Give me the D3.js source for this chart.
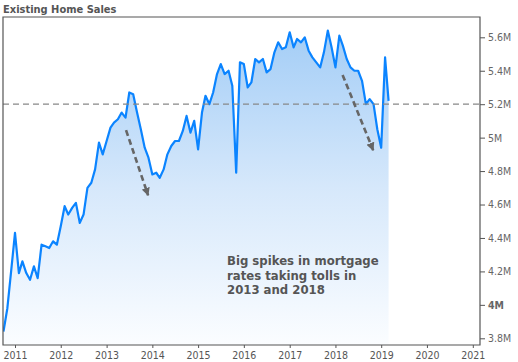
<!DOCTYPE html>
<html><head><meta charset="utf-8">
<script src="https://cdn.jsdelivr.net/npm/d3@7"></script>
<style>
html,body{margin:0;padding:0;background:#fff;}
svg{display:block;}
text{font-family:"DejaVu Sans Condensed","DejaVu Sans",sans-serif;}
</style></head>
<body><svg id="c" width="518" height="362"></svg>
<script>
// ---- data (monthly, millions, SAAR) ----
const startMonth = "2010-10";
const sales = [
 3.84,3.98,4.20,
 4.43,4.19,4.26,4.19,4.15,4.23,4.16,4.36,4.35,4.34,4.38,4.36,
 4.47,4.59,4.54,4.58,4.61,4.49,4.54,4.70,4.73,4.81,4.97,4.90,
 4.98,5.06,5.09,5.11,5.15,5.12,5.27,5.26,5.15,5.05,4.94,4.88,
 4.78,4.79,4.76,4.81,4.90,4.95,4.98,4.98,5.04,5.13,5.03,5.10,
 4.93,5.15,5.25,5.20,5.27,5.38,5.44,5.38,5.40,5.31,4.79,5.45,
 5.44,5.30,5.33,5.47,5.45,5.47,5.39,5.41,5.51,5.57,5.53,5.54,
 5.63,5.54,5.59,5.57,5.60,5.52,5.48,5.45,5.42,5.51,5.64,5.54,
 5.42,5.61,5.55,5.47,5.42,5.40,5.40,5.34,5.20,5.23,5.20,5.05,
 4.94,5.48,5.22
];
const yearTicks = [2011,2012,2013,2014,2015,2016,2017,2018,2019,2020,2021];
const valueTicks = [3.8,4.0,4.2,4.4,4.6,4.8,5.0,5.2,5.4,5.6];
const refValue = 5.2;
const title = "Existing Home Sales";
const noteLines = ["Big spikes in mortgage","rates taking tolls in","2013 and 2018"];
const arrows = [
  {from:["2013-06-05",5.045], to:["2013-11-28",4.655]},
  {from:["2018-02-27",5.375], to:["2018-10-29",4.925]}
];

const parse = d3.timeParse("%Y-%m");
const parseD = d3.timeParse("%Y-%m-%d");
const s0 = parse(startMonth);
const data = sales.map((v,i)=>({date:d3.timeMonth.offset(s0,i), v}));

const svg = d3.select("#c");
const L=3, R=480, T=17, B=345;
const x = d3.scaleTime().domain([new Date(2011,0,1), new Date(2021,0,1)]).range([15,472.8]);
const y = d3.scaleLinear().domain([3.8,5.6]).range([338.3,37.3]);

const defs = svg.append("defs");
const g = defs.append("linearGradient").attr("id","fillg").attr("gradientUnits","userSpaceOnUse")
  .attr("x1",0).attr("x2",0).attr("y1",30).attr("y2",B);
g.append("stop").attr("offset",0).attr("stop-color","#a3cdf6");
g.append("stop").attr("offset",0.5).attr("stop-color","#d6e8fb");
g.append("stop").attr("offset",1).attr("stop-color","#fbfdff");

defs.append("marker").attr("id","ah").attr("viewBox","0 0 10 10").attr("refX",9).attr("refY",5)
  .attr("markerWidth",3.2).attr("markerHeight",3.2).attr("orient","auto").attr("markerUnits","strokeWidth")
  .append("path").attr("d","M0,0L10,5L0,10z").attr("fill","#666");

const clip = defs.append("clipPath").attr("id","pc");
clip.append("rect").attr("x",L).attr("y",T).attr("width",R-L).attr("height",B-T);

const area = d3.area().x(d=>x(d.date)).y0(B).y1(d=>y(d.v));
const line = d3.line().x(d=>x(d.date)).y(d=>y(d.v));

const plot = svg.append("g").attr("clip-path","url(#pc)");
plot.append("path").datum(data).attr("d",area).attr("fill","url(#fillg)");

// reference dashed line
svg.append("line").attr("x1",L).attr("x2",R).attr("y1",y(refValue)).attr("y2",y(refValue))
  .attr("stroke","#888").attr("stroke-width",1.3).attr("stroke-dasharray","6,4");

plot.append("path").datum(data).attr("d",line).attr("fill","none")
  .attr("stroke","#0b84ff").attr("stroke-width",2.2).attr("stroke-linejoin","round");

// arrows
arrows.forEach(a=>{
  const x1=x(parseD(a.from[0])), y1=y(a.from[1]), x2=x(parseD(a.to[0])), y2=y(a.to[1]);
  svg.append("line").attr("x1",x1).attr("y1",y1).attr("x2",x2).attr("y2",y2)
    .attr("stroke","#666").attr("stroke-width",2.6).attr("stroke-dasharray","6,3.5")
    .attr("marker-end","url(#ah)");
});

// frame
svg.append("path").attr("d",`M${L},${T}H${R}V${B}H${L}Z`).attr("fill","none")
  .attr("stroke","#555").attr("stroke-width",1.2);

// y axis (right)
const ya = svg.append("g").attr("transform",`translate(${R},0)`)
  .call(d3.axisRight(y).tickValues(valueTicks).tickSize(5).tickPadding(3)
    .tickFormat(d=>d3.format("~g")(d)+"M"));
ya.select(".domain").remove();
ya.selectAll("line").attr("stroke","#555");
ya.selectAll("text").attr("fill","#666").attr("font-size","10.5px")
  .attr("font-family",'"DejaVu Sans Condensed","DejaVu Sans",sans-serif')
  .attr("font-weight",d=>d===4?"bold":"normal");

// x axis
const xa = svg.append("g").attr("transform",`translate(0,${B})`)
  .call(d3.axisBottom(x).tickValues(yearTicks.map(v=>new Date(v,0,1))).tickSize(3).tickPadding(4)
    .tickFormat(d3.timeFormat("%Y")));
xa.select(".domain").remove();
xa.selectAll("line").attr("stroke","#555");
xa.selectAll("text").attr("fill","#555").attr("font-size","10.5px")
  .attr("font-family",'"DejaVu Sans Condensed","DejaVu Sans",sans-serif');

// title
svg.append("text").attr("x",3).attr("y",13).attr("fill","#555").attr("font-weight","bold")
  .attr("font-size","11px").text(title);

// annotation
const nt = svg.append("text").attr("x",227).attr("y",265).attr("fill","#555")
  .attr("font-weight","bold").attr("font-size","13px");
noteLines.forEach((t,i)=>nt.append("tspan").attr("x",227).attr("dy",i?14.6:0).text(t));
</script></body></html>
